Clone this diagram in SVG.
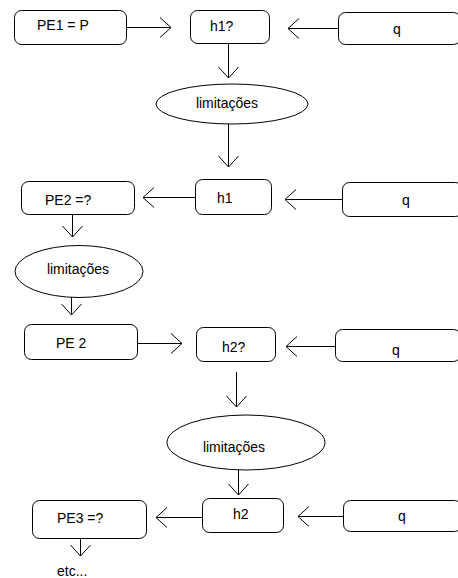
<svg xmlns="http://www.w3.org/2000/svg" width="458" height="578" viewBox="0 0 458 578">
<style>
  .box { fill: #ffffff; stroke: #000000; stroke-width: 1; }
  .ell { fill: #ffffff; stroke: #000000; stroke-width: 1; }
  .lbl { font-family: "Liberation Sans", Arial, sans-serif; font-size: 14px; fill: #000000; }
  .mid { text-anchor: middle; }
  .edge { stroke: #000000; stroke-width: 1; fill: none; marker-end: url(#arr); }
</style>
<defs>
  <marker id="arr" markerUnits="userSpaceOnUse" viewBox="-12 -11 13 22" markerWidth="13" markerHeight="22" refX="0" refY="0" orient="auto" overflow="visible">
    <path d="M-11,-10 L0,0 L-11,10" fill="none" stroke="#000000" stroke-width="1"/>
  </marker>
</defs>
<rect width="458" height="578" fill="#ffffff"/>

<g id="edges">
  <line class="edge" x1="126.5" y1="27.5" x2="171" y2="27.5"/>
  <line class="edge" x1="338" y1="28.5" x2="288" y2="28.5"/>
  <line class="edge" x1="228.5" y1="43" x2="228.5" y2="78"/>
  <line class="edge" x1="228.5" y1="124" x2="228.5" y2="167"/>
  <line class="edge" x1="195" y1="197.5" x2="143" y2="197.5"/>
  <line class="edge" x1="342" y1="199.5" x2="285" y2="199.5"/>
  <line class="edge" x1="72.5" y1="214" x2="72.5" y2="237"/>
  <line class="edge" x1="71.5" y1="297" x2="71.5" y2="315"/>
  <line class="edge" x1="137" y1="343.5" x2="182" y2="343.5"/>
  <line class="edge" x1="335" y1="346.5" x2="286" y2="346.5"/>
  <line class="edge" x1="236.5" y1="372" x2="236.5" y2="407"/>
  <line class="edge" x1="238.5" y1="470" x2="238.5" y2="495"/>
  <line class="edge" x1="202" y1="517.5" x2="156" y2="517.5"/>
  <line class="edge" x1="343" y1="516.5" x2="298" y2="516.5"/>
  <line class="edge" x1="80.5" y1="538" x2="80.5" y2="556"/>
</g>

<g id="pe1">
  <rect class="box" x="14.5" y="10.5" width="112" height="34" rx="7"/>
  <text class="lbl" x="37" y="30">PE1 = P</text>
</g>
<g id="h1q">
  <rect class="box" x="190.5" y="10.5" width="79" height="33" rx="7"/>
  <text class="lbl" x="210" y="31">h1?</text>
</g>
<g id="q1">
  <rect class="box" x="338.5" y="12.5" width="122" height="32" rx="7"/>
  <text class="lbl" x="393" y="34">q</text>
</g>
<g id="lim1">
  <ellipse class="ell" cx="232" cy="104" rx="76" ry="20"/>
  <text class="lbl mid" x="227" y="108">limitações</text>
</g>
<g id="h1">
  <rect class="box" x="195.5" y="179.5" width="76" height="35" rx="7"/>
  <text class="lbl" x="217" y="203">h1</text>
</g>
<g id="pe2q">
  <rect class="box" x="21.5" y="181.5" width="113" height="33" rx="7"/>
  <text class="lbl" x="45" y="205">PE2 =?</text>
</g>
<g id="q2">
  <rect class="box" x="342.5" y="182.5" width="120" height="34" rx="7"/>
  <text class="lbl" x="402" y="205">q</text>
</g>
<g id="lim2">
  <ellipse class="ell" cx="79" cy="271.5" rx="64" ry="26"/>
  <text class="lbl mid" x="78" y="274">limitações</text>
</g>
<g id="pe2">
  <rect class="box" x="24.5" y="324.5" width="113" height="35" rx="7"/>
  <text class="lbl" x="56" y="348">PE 2</text>
</g>
<g id="h2q">
  <rect class="box" x="196.5" y="327.5" width="79" height="34" rx="7"/>
  <text class="lbl" x="222" y="352">h2?</text>
</g>
<g id="q3">
  <rect class="box" x="335.5" y="329.5" width="125" height="32" rx="7"/>
  <text class="lbl" x="392" y="355">q</text>
</g>
<g id="lim3">
  <ellipse class="ell" cx="246" cy="442.5" rx="79" ry="27.5"/>
  <text class="lbl mid" x="234" y="452">limitações</text>
</g>
<g id="h2">
  <rect class="box" x="202.5" y="498.5" width="81" height="34" rx="7"/>
  <text class="lbl" x="233" y="519">h2</text>
</g>
<g id="pe3">
  <rect class="box" x="32.5" y="500.5" width="114" height="38" rx="7"/>
  <text class="lbl" x="57" y="523">PE3 =?</text>
</g>
<g id="q4">
  <rect class="box" x="343.5" y="500.5" width="118" height="31" rx="7"/>
  <text class="lbl" x="398" y="521">q</text>
</g>
<g id="etc">
  <text class="lbl" x="57" y="576">etc...</text>
</g>
</svg>
